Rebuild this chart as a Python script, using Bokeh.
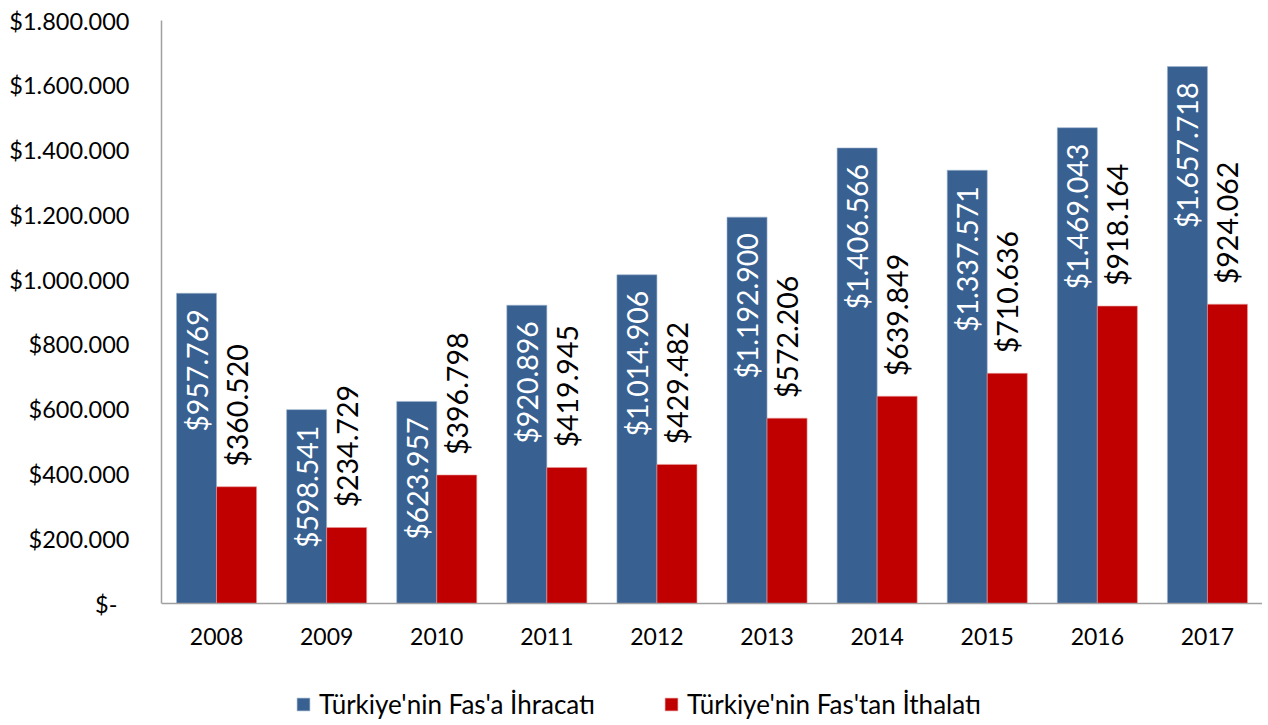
import math
from bokeh.plotting import figure
from bokeh.models import ColumnDataSource, FactorRange, Range1d, FixedTicker, Legend, LegendItem
from bokeh.transform import dodge
from bokeh.core.properties import value
from bokeh.embed import file_html
from bokeh.resources import INLINE

years = ["2008", "2009", "2010", "2011", "2012", "2013", "2014", "2015", "2016", "2017"]
exports = [957769, 598541, 623957, 920896, 1014906, 1192900, 1406566, 1337571, 1469043, 1657718]
imports = [360520, 234729, 396798, 419945, 429482, 572206, 639849, 710636, 918164, 924062]
series_names = ["Türkiye'nin Fas'a İhracatı", "Türkiye'nin Fas'tan İthalatı"]
y_ticks = [0, 200000, 400000, 600000, 800000, 1000000, 1200000, 1400000, 1600000, 1800000]
y_tick_labels = ["$-\u00a0\u00a0", "$200.000", "$400.000", "$600.000", "$800.000", "$1.000.000",
                 "$1.200.000", "$1.400.000", "$1.600.000", "$1.800.000"]

def fmt(v):
    return "$" + f"{v:,}".replace(",", ".")

BLUE = "#386192"
RED = "#C00000"
FONT = "Lato"

W, H = 1262, 722
TOP, ZERO_Y = 20, 603          # pixel rows of the top tick and of zero
Y_MAX = 1800000
per_px = Y_MAX / (ZERO_Y - TOP)
y_start = -(H - ZERO_Y) * per_px

src = ColumnDataSource(dict(
    year=years, exp=exports, imp=imports,
    exp_lbl=[fmt(v) for v in exports], imp_lbl=[fmt(v) for v in imports],
))

p = figure(x_range=FactorRange(*years), y_range=Range1d(y_start, Y_MAX),
           width=W, height=H, output_backend="svg", toolbar_location=None,
           min_border_left=161, min_border_right=0, min_border_top=TOP, min_border_bottom=0)
p.outline_line_color = None
p.grid.visible = False
p.background_fill_color = "white"

off = 0.1818
bw = 0.3636
b1 = p.vbar(x=dodge("year", -off, range=p.x_range), top="exp", bottom=0, width=bw, source=src,
            fill_color=BLUE, line_color="#9fb3cc", line_width=0.6)
b2 = p.vbar(x=dodge("year", off, range=p.x_range), top="imp", bottom=0, width=bw, source=src,
            fill_color=RED, line_color="#e89a9a", line_width=0.6)

p.text(x=dodge("year", -off, range=p.x_range), y="exp", text="exp_lbl", source=src,
       angle=math.pi / 2, text_align="right", text_baseline="middle", y_offset=16,
       text_color="white", text_font=value(FONT), text_font_size="28.5px")
p.text(x=dodge("year", off, range=p.x_range), y="imp", text="imp_lbl", source=src,
       angle=math.pi / 2, text_align="left", text_baseline="middle", y_offset=-20,
       text_color="black", text_font=value(FONT), text_font_size="28.5px")

ax_col = "#a0a0a0"
p.yaxis.ticker = FixedTicker(ticks=y_ticks)
p.yaxis.major_label_overrides = {t: l for t, l in zip(y_ticks, y_tick_labels)}
p.yaxis.bounds = (0, Y_MAX)
p.yaxis.major_tick_out = 0
p.yaxis.major_tick_in = 0
p.yaxis.minor_tick_out = 0
p.yaxis.minor_tick_in = 0
p.yaxis.axis_line_color = ax_col
p.yaxis.axis_line_width = 1.5
p.yaxis.major_label_standoff = 32
p.yaxis.major_label_text_font = FONT
p.yaxis.major_label_text_font_size = "23.5px"
p.yaxis.major_label_text_color = "black"

p.xaxis.fixed_location = 0
p.xaxis.major_tick_out = 0
p.xaxis.major_tick_in = 0
p.xaxis.axis_line_color = ax_col
p.xaxis.axis_line_width = 1.5
p.xaxis.major_label_standoff = 24
p.xaxis.major_label_text_font = FONT
p.xaxis.major_label_text_font_size = "23px"
p.xaxis.major_label_text_color = "black"

legend = Legend(items=[LegendItem(label=series_names[0], renderers=[b1]),
                       LegendItem(label=series_names[1], renderers=[b2])],
                orientation="horizontal", location=(134, 2),
                border_line_color=None, background_fill_alpha=0,
                margin=0, padding=0, spacing=68, label_standoff=8,
                glyph_width=16, glyph_height=16, label_height=20,
                label_text_font=FONT, label_text_font_size="26px", label_text_color="black")
p.add_layout(legend, "center")

open("out.html", "w").write(file_html(p, INLINE))
